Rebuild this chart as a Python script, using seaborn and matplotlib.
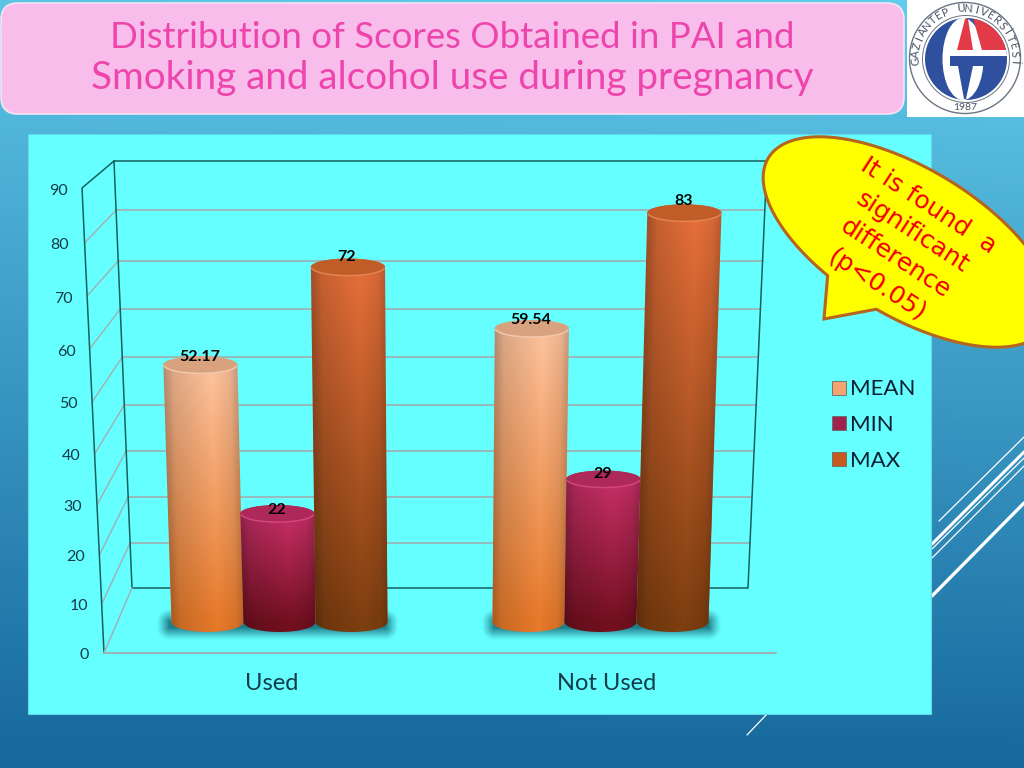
import numpy as np
import pandas as pd
import matplotlib
matplotlib.use("Agg")
import matplotlib.pyplot as plt
import seaborn as sns
from matplotlib.colors import to_rgb
from matplotlib.patches import Ellipse, FancyBboxPatch, Polygon, Rectangle, Circle
from matplotlib.transforms import Affine2D

categories = ["Used", "Not Used"]
series_names = ["MEAN", "MIN", "MAX"]
mean_values = [52.17, 59.54]
min_values = [22, 29]
max_values = [72, 83]
y_tick_labels = [0, 10, 20, 30, 40, 50, 60, 70, 80, 90]

legend_colors = ["#F4A46E", "#A0234F", "#C85A20"]
top_colors = ["#FFC49E", "#C93068", "#E8703A"]
bottom_colors = ["#E87A2A", "#741020", "#7F3F10"]
cap_colors = ["#D9A27F", "#AE285A", "#C05C28"]
rim_colors = ["#F6CDB0", "#DA4C80", "#E88A58"]

sns.set_style("white")
plt.rcParams["font.family"] = ["Lato", "DejaVu Sans"]

df = pd.DataFrame({
    "group": categories * 3,
    "series": [s for s in series_names for _ in categories],
    "value": mean_values + min_values + max_values,
})

fig = plt.figure(figsize=(10.24, 7.68), dpi=100)

# background layer in pixel coordinates
bg = fig.add_axes([0, 0, 1, 1], zorder=0)
bg.axis("off")

yy, xx = np.mgrid[0:1:200j, 0:1:200j]
c1 = np.array(to_rgb("#62CDEC"))
c2 = np.array(to_rgb("#14659B"))
t = np.clip(yy * 0.93 + (0.5 - xx) * 0.08 * (1 - yy) + 0.04, 0, 1)[..., None]
bg.imshow(c1 * (1 - t) + c2 * t, extent=(0, 1024, 768, 0), aspect="auto", zorder=0)
bg.set_xlim(0, 1024)
bg.set_ylim(768, 0)

for pts, lw in [([(939, 521), (1024, 437)], 0.9), ([(932, 544), (1024, 452)], 2.2),
                ([(932, 549), (1024, 458)], 0.9), ([(932, 558), (1024, 466)], 0.9),
                ([(932, 596), (1024, 503)], 2.4), ([(747, 735), (767, 714)], 0.9)]:
    bg.plot(*zip(*pts), color="white", lw=lw, zorder=1)

bg.add_patch(Rectangle((28, 134), 903, 580, fc="#66FFFF", ec="#62D8E8", lw=0.8, zorder=2))

# title box and logo
bg.add_patch(FancyBboxPatch((1, 3), 903, 111, boxstyle="round,pad=0,rounding_size=17",
                            fc="#F9BDEB", ec="#F4E4F4", lw=1.2, zorder=3))
bg.text(452, 37, "Distribution of Scores Obtained in PAI and", color="#EE45AC", fontsize=26.4,
        ha="center", va="center", zorder=4)
bg.text(452, 78, "Smoking and alcohol use during pregnancy", color="#EE45AC", fontsize=27.8,
        ha="center", va="center", zorder=4)

bg.add_patch(Rectangle((907, 0), 117, 117, fc="white", ec="none", zorder=3))
bg.add_patch(Circle((965, 58), 55.5, fc="white", ec="#6A7484", lw=1.0, zorder=4))
bg.add_patch(Circle((966, 59), 43.5, fc="white", ec="#6A7484", lw=0.7, zorder=4))
disc = Circle((966, 59), 41, fc="#2F4F9F", ec="none", zorder=5)
bg.add_patch(disc)
bg.add_patch(Ellipse((963, 59), 41, 82, fc="white", ec="none", zorder=6))
red_l = Polygon([(965, 19), (957, 50), (973, 50), (968, 19)], fc="#E23A46", ec="none", zorder=7)
red_r = Polygon([(973, 18), (982, 50), (1010, 50), (1010, 18)], fc="#E23A46", ec="none", zorder=7)
gap = Rectangle((983, 50), 30, 5.5, fc="white", ec="none", zorder=7)
blue_t = Polygon([(950, 56), (985, 56), (985, 66), (973, 66), (966, 99), (964, 99), (958, 66), (950, 66)],
                 fc="#2F4F9F", ec="none", zorder=7)
for p in (red_l, red_r, gap, blue_t):
    bg.add_patch(p)
red_r.set_clip_path(disc)
gap.set_clip_path(disc)
ring_text = "GAZİANTEP ÜNİVERSİTESİ"
for ch, ang in zip(ring_text, np.linspace(-94, 94, len(ring_text))):
    a = np.radians(ang)
    bg.text(965 + 49.5 * np.sin(a), 58 - 49.5 * np.cos(a), ch, fontsize=8, color="#4A5464",
            rotation=-ang, ha="center", va="center", rotation_mode="anchor", zorder=8)
bg.text(965, 107, "1987", fontsize=7.5, color="#4A5464", ha="center", va="center", zorder=8)

# perspective box behind the bars
front_y = [653, 604, 555, 505, 454, 402, 349, 296, 243, 188]
back_y = [588, 543, 497, 451, 405, 357, 309, 261, 210, 161]
label_x = [84, 79, 76, 73, 71, 68, 66, 63, 60, 58]
label_y = [655, 606, 557, 507, 456, 404, 352, 299, 245, 191]


def front_x(y):
    return 104 - (653 - y) * 22 / 465


def back_x(y):
    return 132 - (588 - y) * 18 / 427


def right_x(y):
    return 748 + (588 - y) * 19 / 427


grid_col = "#9DB4B6"
for fy, by in zip(front_y[1:-1], back_y[1:-1]):
    bg.plot([front_x(fy), back_x(by)], [fy, by], color=grid_col, lw=1.1, zorder=3)
    bg.plot([back_x(by), right_x(by)], [by, by], color=grid_col, lw=1.3, zorder=3)
line_col = "#14605F"
bg.plot([104, 82, 114, 132, 748, 767, 114], [653, 188, 161, 588, 588, 161, 161],
        color=line_col, lw=1.1, zorder=3)
bg.plot([104, 132], [653, 588], color=grid_col, lw=1.1, zorder=3)
bg.plot([104, 776], [653, 653], color=grid_col, lw=1.4, zorder=3)

for lab, lx, ly in zip(y_tick_labels, label_x, label_y):
    bg.text(lx, ly, str(lab), fontsize=11.5, color="#123C4A", ha="center", va="center", zorder=4)
for cat, cx in zip(categories, [272, 607]):
    bg.text(cx, 684, cat, fontsize=17, color="#123C4A", ha="center", va="center", zorder=4)

# soft shadows on the floor
sx, sy = np.meshgrid(np.arange(140, 740), np.arange(595, 645))
shadow = np.zeros(sx.shape)
for cx, half in [(277, 108), (601, 107)]:
    dx = np.clip(np.abs(sx - cx) - half, 0, None)
    dy = np.clip(np.abs(sy - 624) - 3, 0, None)
    shadow = np.maximum(shadow, np.clip(1 - np.hypot(dx, dy) / 13, 0, 1) ** 1.2)
rgba = np.zeros(sx.shape + (4,))
rgba[..., :3] = to_rgb("#0C5F6E")
rgba[..., 3] = shadow * 0.8
bg.imshow(rgba, extent=(140, 740, 645, 595), aspect="auto", zorder=3)
bg.set_xlim(0, 1024)
bg.set_ylim(768, 0)

# bars through seaborn, mapped on the picture's pixel layout
X0, X_UNIT, Y0, Y_UNIT = 279.5, 321.0, 622.0, 4.93
ax = fig.add_axes([(X0 - 0.5 * X_UNIT) / 1024, (768 - Y0) / 768, 2 * X_UNIT / 1024, 90 * Y_UNIT / 768],
                  zorder=1)
ax.patch.set_alpha(0)
sns.barplot(data=df, x="group", y="value", hue="series", order=categories, hue_order=series_names,
            palette=legend_colors, width=0.673, gap=0, saturation=1, errorbar=None, legend=False,
            edgecolor="none", linewidth=0, ax=ax)
ax.axis("off")

RY_TOP = 8.5 / Y_UNIT
RY_BOT = 10 / Y_UNIT
for j, container in enumerate(ax.containers):
    for patch in container.patches:
        x0, w, h = patch.get_x(), patch.get_width(), patch.get_height()
        c = x0 + w / 2
        # bars lean away from the vanishing point, in x data per y data
        lean = 0.03907 * (c - 0.481) * Y_UNIT / X_UNIT
        patch.set_transform(Affine2D().translate(-c, 0)
                            + Affine2D.from_values(1, 0, lean, 1, c, 0) + ax.transData)
        z = 2 + 0.01 * x0 + 0.1 * (j == 2)
        patch.set_zorder(z)
        th = np.linspace(0, np.pi, 60)
        top_x = c + lean * h + (w / 2) * 1.03 * np.cos(th)
        top_y = h + RY_TOP * np.sin(th)
        bot_x = c - (w / 2) * np.cos(th)
        bot_y = -RY_BOT * np.sin(th)
        outline = np.column_stack([np.r_[top_x, bot_x], np.r_[top_y, bot_y]])
        gx, gy = np.meshgrid(np.linspace(c - w, c + w + 0.1, 260), np.linspace(-3, h + 3, 240))
        u = (gx - (c + lean * gy)) / w + 0.5
        shade = np.interp(u, [0, 0.12, 0.65, 0.9, 1], [0.72, 0.86, 1.0, 0.92, 0.8])
        v = np.clip(gy / max(h, 1), 0, 1)
        col = np.array(to_rgb(bottom_colors[j])) * (1 - v[..., None]) + np.array(to_rgb(top_colors[j])) * v[..., None]
        im = ax.imshow(np.clip(col * shade[..., None], 0, 1), origin="lower", aspect="auto",
                       extent=(gx.min(), gx.max(), gy.min(), gy.max()), zorder=z)
        poly = Polygon(outline, closed=True, transform=ax.transData, fc="none", ec="none")
        ax.add_patch(poly)
        im.set_clip_path(poly)
        im.set_clip_box(fig.bbox)
        cap = Ellipse((c + lean * h, h), w * 1.03, 2 * RY_TOP, fc=cap_colors[j], ec="none",
                      zorder=z + 0.001)
        ax.add_patch(cap)
        th2 = np.linspace(0.15, np.pi - 0.15, 40)
        ax.plot(c + lean * h + (w / 2) * 1.02 * np.cos(th2), h - RY_TOP * np.sin(th2),
                color=rim_colors[j], lw=1.0, alpha=0.9, zorder=z + 0.002)
        ax.text(c + lean * h - 1 / X_UNIT, h + (1 + 0.13 * h) / Y_UNIT, f"{h:g}", fontsize=11.5,
                fontweight="bold", color="black", ha="center", va="center", zorder=6)

ax.set_xlim(-0.5, 1.5)
ax.set_ylim(0, 90)
for a in ax.patches + ax.lines + ax.texts:
    a.set_clip_on(False)

handles = [Rectangle((0, 0), 1, 1, fc=c, ec="#6A6A60", lw=0.6) for c in legend_colors]
fig.legend(handles, series_names, loc="upper left", bbox_to_anchor=(828 / 1024, 1 - 375 / 768), frameon=False,
           fontsize=16, labelcolor="#0B2030", handlelength=0.6, handleheight=0.6, handletextpad=0.2,
           labelspacing=0.7, borderaxespad=0, borderpad=0.2)

# callout on top of the chart
top = fig.add_axes([0, 0, 1, 1], zorder=3)
top.set_xlim(0, 1024)
top.set_ylim(768, 0)
top.axis("off")
theta = np.radians(31)
ang = np.linspace(0, 2 * np.pi, 240)
ex = 908 + 163 * np.cos(ang) * np.cos(theta) - 74 * np.sin(ang) * np.sin(theta)
ey = 242 + 163 * np.cos(ang) * np.sin(theta) + 74 * np.sin(ang) * np.cos(theta)
verts = list(zip(ex, ey))
# swap the stretch between the tail's two feet for the tail itself
d1 = np.hypot(ex - 827, ey - 275).argmin()
d2 = np.hypot(ex - 876, ey - 311).argmin()
lo, hi = min(d1, d2), max(d1, d2)
outline = verts[:lo + 1] + [(824, 319)] + verts[hi:]
top.add_patch(Polygon(outline, closed=True, fc="#FFFF00", ec="#B5651D", lw=2.2, zorder=1))
for s, cx, cy in [("It is found  a", 928, 206), ("significant", 912, 232),
                  ("difference", 895, 259), ("(p<0.05)", 877, 285)]:
    top.text(cx, cy, s, fontsize=18, color="#F00000", rotation=-33, ha="center", va="center",
             rotation_mode="anchor", family="DejaVu Sans", zorder=2)

fig.savefig("out.png", dpi=100)
